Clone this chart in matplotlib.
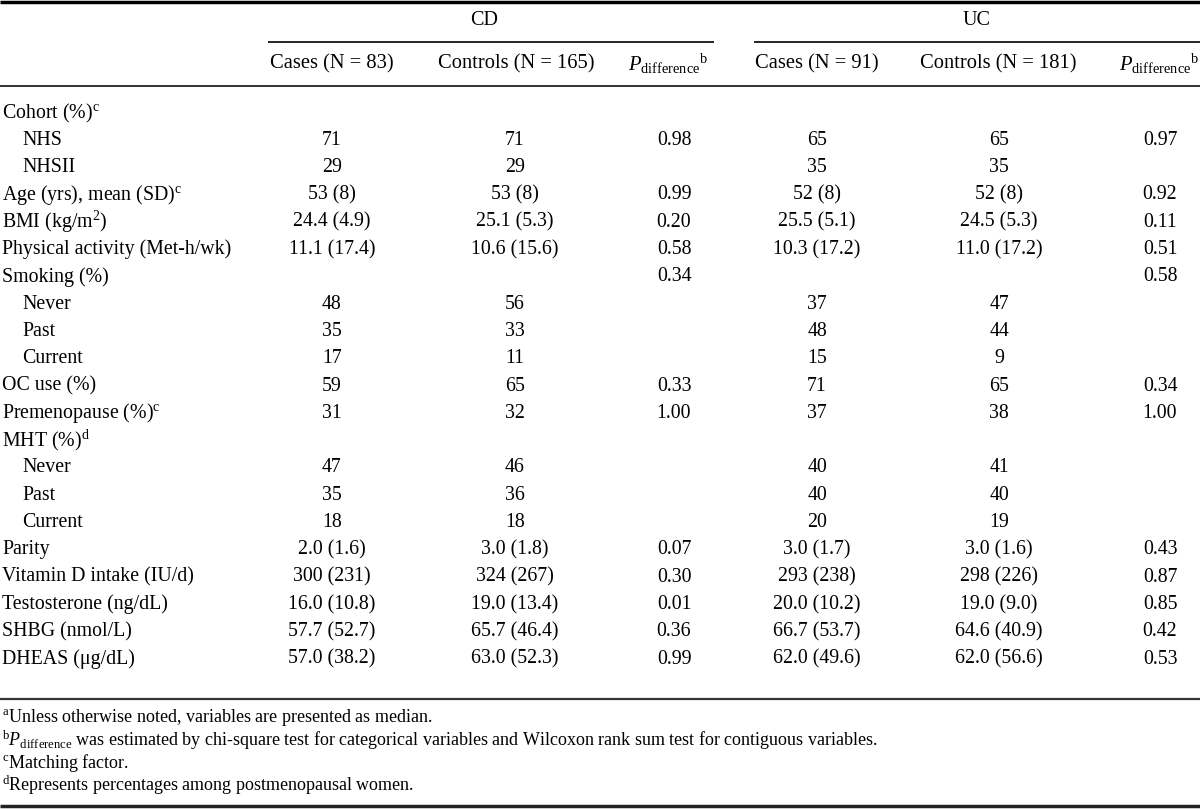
import matplotlib
matplotlib.use("Agg")
import matplotlib.pyplot as plt

plt.rcParams['font.family'] = ['Liberation Serif', 'DejaVu Serif']
plt.rcParams['mathtext.fontset'] = 'custom'
plt.rcParams['mathtext.rm'] = 'Liberation Serif'
plt.rcParams['mathtext.it'] = 'Liberation Serif:italic'

# table content
row_labels = [r"Cohort (%)$^{\mathrm{c}}$", "NHS", "NHSII",
              r"Age (yrs), mean (SD)$^{\mathrm{c}}$", r"BMI (kg/m$^{2}$)",
              "Physical activity (Met-h/wk)", "Smoking (%)", "Never", "Past", "Current",
              "OC use (%)", r"Premenopause (%)$^{\mathrm{c}}$", r"MHT (%)$^{\mathrm{d}}$",
              "Never", "Past", "Current", "Parity", "Vitamin D intake (IU/d)",
              "Testosterone (ng/dL)", "SHBG (nmol/L)", "DHEAS (μg/dL)"]
indented = [0, 1, 1, 0, 0, 0, 0, 1, 1, 1, 0, 0, 0, 1, 1, 1, 0, 0, 0, 0, 0]

cd_cases = ["", "71", "29", "53 (8)", "24.4 (4.9)", "11.1 (17.4)", "", "48", "35", "17",
            "59", "31", "", "47", "35", "18", "2.0 (1.6)", "300 (231)", "16.0 (10.8)",
            "57.7 (52.7)", "57.0 (38.2)"]
cd_controls = ["", "71", "29", "53 (8)", "25.1 (5.3)", "10.6 (15.6)", "", "56", "33", "11",
               "65", "32", "", "46", "36", "18", "3.0 (1.8)", "324 (267)", "19.0 (13.4)",
               "65.7 (46.4)", "63.0 (52.3)"]
cd_p = ["", "0.98", "", "0.99", "0.20", "0.58", "0.34", "", "", "",
        "0.33", "1.00", "", "", "", "", "0.07", "0.30", "0.01", "0.36", "0.99"]
uc_cases = ["", "65", "35", "52 (8)", "25.5 (5.1)", "10.3 (17.2)", "", "37", "48", "15",
            "71", "37", "", "40", "40", "20", "3.0 (1.7)", "293 (238)", "20.0 (10.2)",
            "66.7 (53.7)", "62.0 (49.6)"]
uc_controls = ["", "65", "35", "52 (8)", "24.5 (5.3)", "11.0 (17.2)", "", "47", "44", "9",
               "65", "38", "", "41", "40", "19", "3.0 (1.6)", "298 (226)", "19.0 (9.0)",
               "64.6 (40.9)", "62.0 (56.6)"]
uc_p = ["", "0.97", "", "0.92", "0.11", "0.51", "0.58", "", "", "",
        "0.34", "1.00", "", "", "", "", "0.43", "0.87", "0.85", "0.42", "0.53"]

group_names = ["CD", "UC"]
col_headers = ["Cases (N = 83)", "Controls (N = 165)", r"$P_{\mathrm{difference}}{}^{\mathrm{b}}$",
               "Cases (N = 91)", "Controls (N = 181)", r"$P_{\mathrm{difference}}{}^{\mathrm{b}}$"]
footnotes = [r"$^{\mathrm{a}}$Unless otherwise noted, variables are presented as median.",
             r"$^{\mathrm{b}}P_{\mathrm{difference}}$ was estimated by chi-square test for categorical "
             r"variables and Wilcoxon rank sum test for contiguous variables.",
             r"$^{\mathrm{c}}$Matching factor.",
             r"$^{\mathrm{d}}$Represents percentages among postmenopausal women."]

fig = plt.figure(figsize=(12, 8.09), dpi=100)
ax = fig.add_axes([0, 0, 1, 1])
ax.set_xlim(0, 1200)
ax.set_ylim(809, 0)
ax.axis('off')

fs = 14.3
col_x = [332, 515, 674, 817, 999, 1160]
head_x = [332, 516, 668, 817, 998, 1159]

# rules
ax.hlines(1.5, 0, 1200, color='black', lw=2.5)
ax.hlines(42, 268, 714, color='black', lw=1.2)
ax.hlines(42, 754, 1200, color='black', lw=1.2)
ax.hlines(86, 0, 1200, color='#222222', lw=1.3)
ax.hlines(699, 0, 1200, color='#333333', lw=1.6)
ax.hlines(806, 0, 1200, color='#222222', lw=2.5)

# headers
ax.text(484, 20, group_names[0], ha='center', va='center', fontsize=14.5)
ax.text(977, 20, group_names[1], ha='center', va='center', fontsize=14.5)
for x, h in zip(head_x, col_headers):
    ax.text(x, 64, h, ha='center', va='center', fontsize=14.8)

# body
y0, dy = 113, 27.3
cols = [cd_cases, cd_controls, cd_p, uc_cases, uc_controls, uc_p]
for i, lab in enumerate(row_labels):
    y = y0 + i * dy
    ax.text(2 + 20 * indented[i], y, lab, ha='left', va='center', fontsize=fs)
    for x, c in zip(col_x, cols):
        if c[i]:
            ax.text(x, y, c[i], ha='center', va='center', fontsize=fs)

# footnotes
for j, f in enumerate(footnotes):
    ax.text(2, 718 + j * 22.4, f, ha='left', va='center', fontsize=13)

fig.savefig("out.png", dpi=100)
